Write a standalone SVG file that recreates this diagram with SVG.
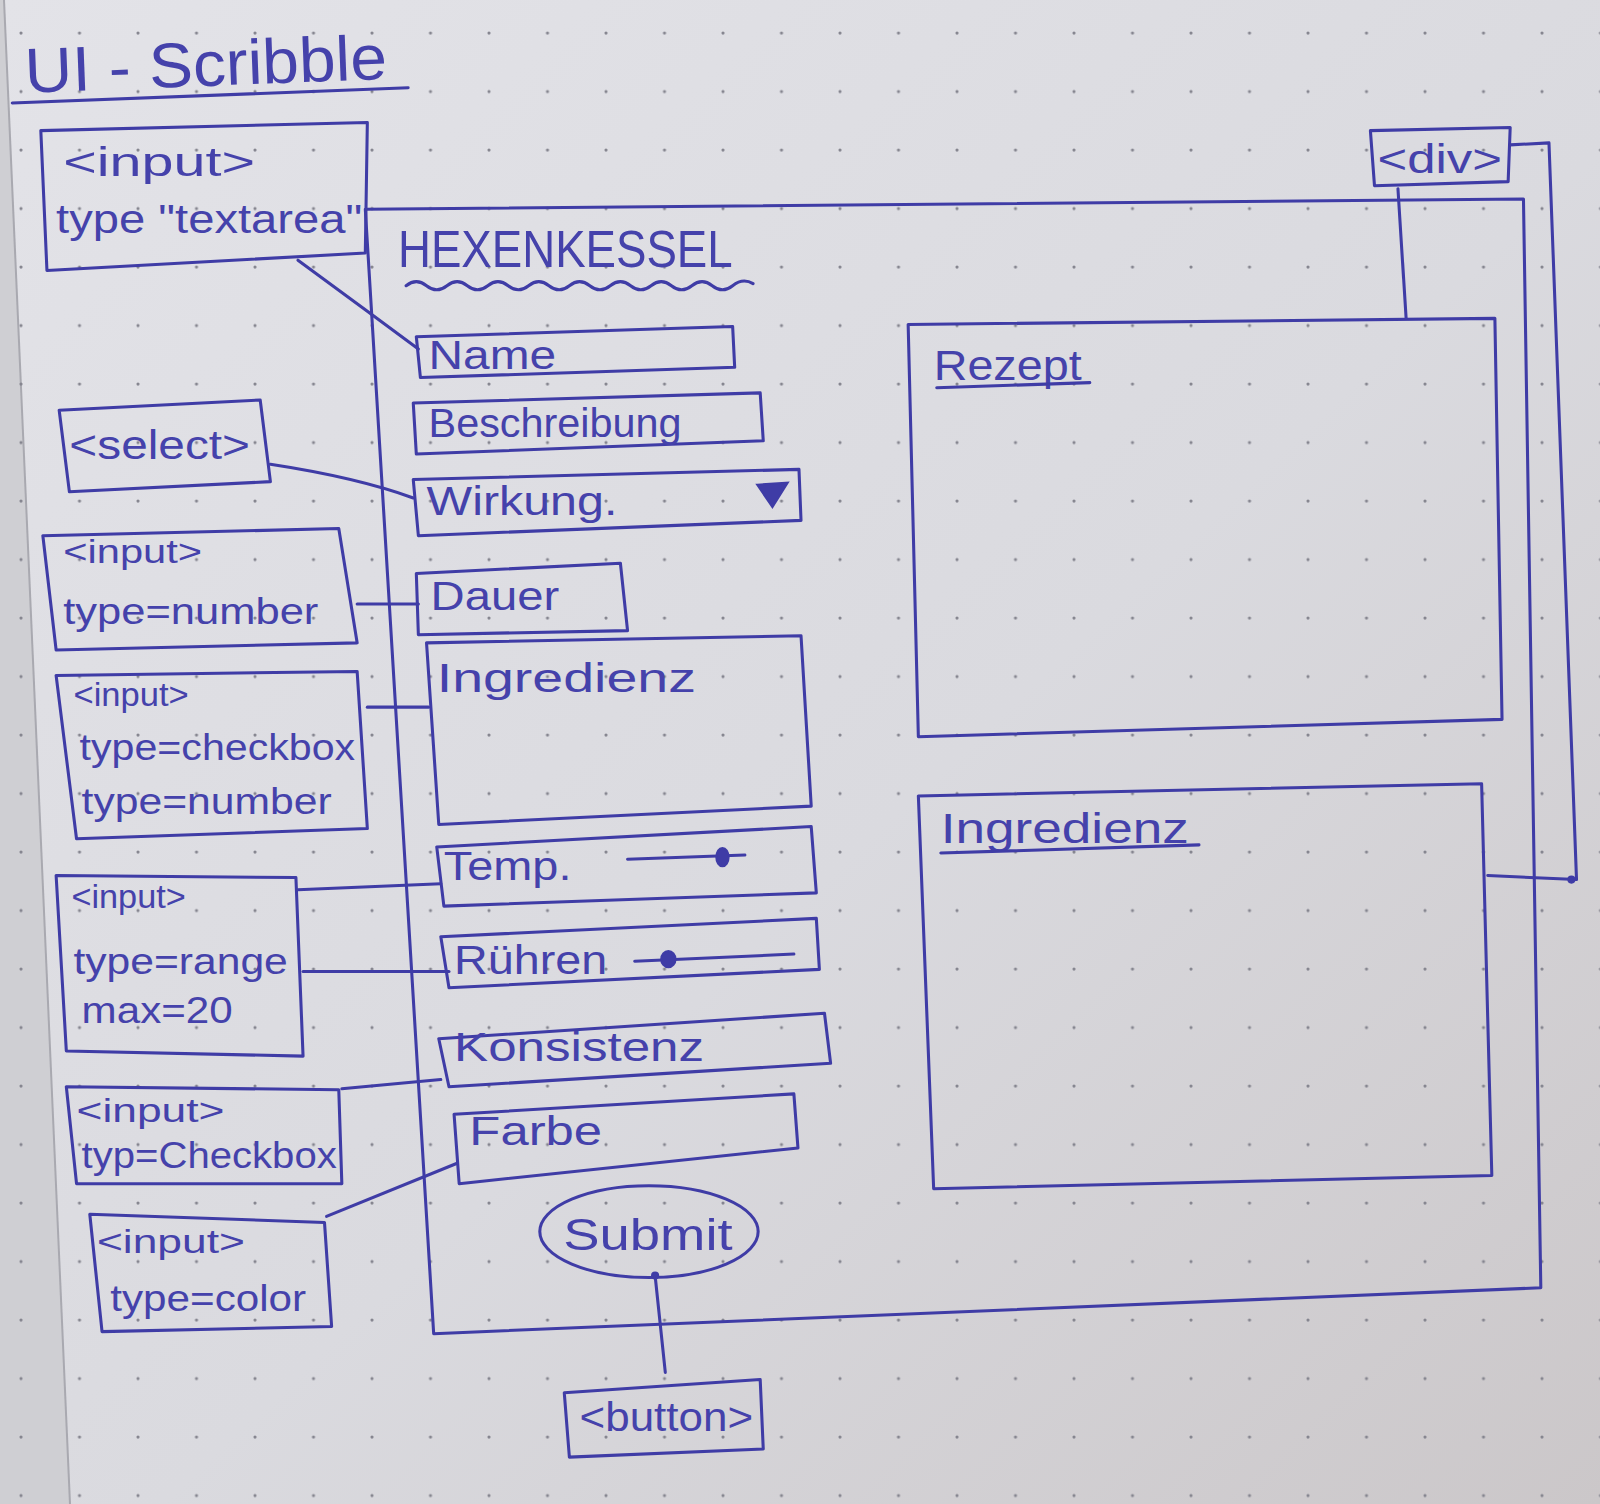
<svg xmlns="http://www.w3.org/2000/svg" width="1600" height="1504" viewBox="0 0 1600 1504">
<defs>
<linearGradient id="paper" x1="0" y1="0" x2="1" y2="1">
<stop offset="0" stop-color="#e3e3e8"/>
<stop offset="0.55" stop-color="#dadadf"/>
<stop offset="1" stop-color="#cbc7c9"/>
</linearGradient>
<pattern id="dots" x="18" y="30" width="58.5" height="58.5" patternUnits="userSpaceOnUse">
<circle cx="3" cy="3" r="1.6" fill="#85858f"/>
</pattern>
<style>
.ink{fill:none;stroke:#3f3ca6;stroke-width:3;stroke-linecap:round;stroke-linejoin:round}
.fillink{fill:#3f3ca6;stroke:#3f3ca6;stroke-width:2}
.t{font-family:"Liberation Sans",Arial,sans-serif;fill:#4542ab;font-weight:normal}
.s32{font-size:32px}.s36{font-size:36px}.s40{font-size:40px}.s44{font-size:44px}
</style>
</defs>
<rect width="1600" height="1504" fill="url(#paper)"/>
<polygon points="0,0 4,0 70,1504 0,1504" fill="#cfcfd3"/>
<path d="M4,0 L70,1504" stroke="#a9a9b0" stroke-width="2" fill="none"/>
<rect width="1600" height="1504" fill="url(#dots)"/>
<g transform="scale(1.0204)">
<g id="title">
<text class="t" x="25" y="91" font-size="62" textLength="355" lengthAdjust="spacingAndGlyphs" transform="rotate(-2.2 25 91)">UI - Scribble</text>
<path class="ink" d="M12,101 L400,86"/>
</g>
<g id="form-container">
<polygon class="ink" points="358,205 1493,195 1510,1262 425,1307"/>
<text class="t" x="390" y="262" font-size="50" textLength="328" lengthAdjust="spacingAndGlyphs">HEXENKESSEL</text>
<path class="ink" d="M398,280 q10,-8 20,0 t20,0 t20,0 t20,0 t20,0 t20,0 t20,0 t20,0 t20,0 t20,0 t20,0 t20,0 t20,0 t20,0 t20,0 t20,0 t20,-2"/>
</g>
<g id="node-textarea">
<polygon class="ink" points="40,128 360,120 358,248 46,265"/>
<text class="t s40" x="62" y="172" textLength="188" lengthAdjust="spacingAndGlyphs">&lt;input&gt;</text>
<text class="t s40" x="55" y="228" textLength="300" lengthAdjust="spacingAndGlyphs">type "textarea"</text>
</g>
<g id="node-select">
<polygon class="ink" points="58,402 255,392 265,472 68,482"/>
<text class="t s40" x="68" y="450" textLength="177" lengthAdjust="spacingAndGlyphs">&lt;select&gt;</text>
</g>
<g id="node-input-number">
<polygon class="ink" points="42,525 332,518 350,630 55,637"/>
<text class="t s32" x="62" y="552" textLength="136" lengthAdjust="spacingAndGlyphs">&lt;input&gt;</text>
<text class="t s36" x="62" y="612" textLength="250" lengthAdjust="spacingAndGlyphs">type=number</text>
</g>
<g id="node-input-checkbox-number">
<polygon class="ink" points="55,662 350,658 360,812 75,822"/>
<text class="t s32" x="72" y="692" textLength="113" lengthAdjust="spacingAndGlyphs">&lt;input&gt;</text>
<text class="t s36" x="78" y="745" textLength="270" lengthAdjust="spacingAndGlyphs">type=checkbox</text>
<text class="t s36" x="80" y="798" textLength="245" lengthAdjust="spacingAndGlyphs">type=number</text>
</g>
<g id="node-input-range">
<polygon class="ink" points="55,858 290,860 297,1035 65,1030"/>
<text class="t s32" x="70" y="890" textLength="112" lengthAdjust="spacingAndGlyphs">&lt;input&gt;</text>
<text class="t s36" x="72" y="955" textLength="210" lengthAdjust="spacingAndGlyphs">type=range</text>
<text class="t s36" x="80" y="1003" textLength="148" lengthAdjust="spacingAndGlyphs">max=20</text>
</g>
<g id="node-input-checkbox">
<polygon class="ink" points="65,1065 332,1068 335,1160 75,1160"/>
<text class="t s32" x="75" y="1100" textLength="145" lengthAdjust="spacingAndGlyphs">&lt;input&gt;</text>
<text class="t s36" x="80" y="1145" textLength="250" lengthAdjust="spacingAndGlyphs">typ=Checkbox</text>
</g>
<g id="node-input-color">
<polygon class="ink" points="88,1190 318,1198 325,1300 100,1305"/>
<text class="t s32" x="95" y="1228" textLength="145" lengthAdjust="spacingAndGlyphs">&lt;input&gt;</text>
<text class="t s36" x="108" y="1285" textLength="192" lengthAdjust="spacingAndGlyphs">type=color</text>
</g>
<g id="field-name">
<polygon class="ink" points="408,330 718,320 720,360 412,370"/>
<text class="t s40" x="420" y="362" textLength="125" lengthAdjust="spacingAndGlyphs">Name</text>
</g>
<g id="field-beschreibung">
<polygon class="ink" points="405,395 745,385 748,432 408,445"/>
<text class="t s40" x="420" y="428" textLength="248" lengthAdjust="spacingAndGlyphs">Beschreibung</text>
</g>
<g id="field-wirkung">
<polygon class="ink" points="405,470 783,460 785,510 410,525"/>
<text class="t s40" x="418" y="505" textLength="187" lengthAdjust="spacingAndGlyphs">Wirkung.</text>
<polygon class="fillink" points="742,475 772,473 757,497"/>
</g>
<g id="field-dauer">
<polygon class="ink" points="408,562 608,552 615,618 410,622"/>
<text class="t s40" x="422" y="598" textLength="126" lengthAdjust="spacingAndGlyphs">Dauer</text>
</g>
<g id="field-ingredienz">
<polygon class="ink" points="418,630 785,623 795,790 430,808"/>
<text class="t s40" x="428" y="678" textLength="254" lengthAdjust="spacingAndGlyphs">Ingredienz</text>
</g>
<g id="field-temp">
<polygon class="ink" points="428,830 795,810 800,875 435,888"/>
<text class="t s40" x="435" y="862" textLength="125" lengthAdjust="spacingAndGlyphs">Temp.</text>
<path class="ink" d="M615,842 L730,838"/>
<ellipse class="fillink" cx="708" cy="840" rx="6" ry="9"/>
</g>
<g id="field-ruehren">
<polygon class="ink" points="432,918 800,900 803,950 440,968"/>
<text class="t s40" x="445" y="955" textLength="150" lengthAdjust="spacingAndGlyphs">Rühren</text>
<path class="ink" d="M622,942 L778,935"/>
<ellipse class="fillink" cx="655" cy="940" rx="7" ry="8"/>
</g>
<g id="field-konsistenz">
<polygon class="ink" points="430,1018 808,993 814,1042 440,1065"/>
<text class="t s40" x="445" y="1040" textLength="245" lengthAdjust="spacingAndGlyphs">Konsistenz</text>
</g>
<g id="field-farbe">
<polygon class="ink" points="445,1092 778,1072 782,1125 450,1160"/>
<text class="t s40" x="460" y="1122" textLength="130" lengthAdjust="spacingAndGlyphs">Farbe</text>
</g>
<g id="node-submit">
<ellipse class="ink" cx="636" cy="1207" rx="107" ry="45"/>
<text class="t s44" x="552" y="1225" textLength="166" lengthAdjust="spacingAndGlyphs">Submit</text>
</g>
<g id="node-button">
<polygon class="ink" points="553,1365 745,1352 748,1420 558,1428"/>
<text class="t s40" x="568" y="1402" textLength="170" lengthAdjust="spacingAndGlyphs">&lt;button&gt;</text>
</g>
<g id="node-div">
<polygon class="ink" points="1343,128 1480,125 1478,178 1347,182"/>
<text class="t s40" x="1350" y="170" textLength="122" lengthAdjust="spacingAndGlyphs">&lt;div&gt;</text>
</g>
<g id="node-rezept">
<polygon class="ink" points="890,318 1465,312 1472,705 900,722"/>
<text class="t" x="915" y="372" font-size="42" textLength="145" lengthAdjust="spacingAndGlyphs">Rezept</text>
<path class="ink" d="M918,380 L1068,375"/>
</g>
<g id="node-ingredienz">
<polygon class="ink" points="900,780 1452,768 1462,1152 915,1165"/>
<text class="t" x="922" y="826" font-size="42" textLength="243" lengthAdjust="spacingAndGlyphs">Ingredienz</text>
<path class="ink" d="M922,836 L1175,828"/>
</g>
<g id="connectors">
<path class="ink" d="M292,255 L360,305 L410,342"/>
<path class="ink" d="M265,455 Q350,468 405,488"/>
<path class="ink" d="M350,592 L410,592"/>
<path class="ink" d="M360,693 L420,693"/>
<path class="ink" d="M292,872 L432,866"/>
<path class="ink" d="M297,952 L440,952"/>
<path class="ink" d="M335,1067 L432,1058"/>
<path class="ink" d="M320,1192 L448,1140"/>
<path class="ink" d="M642,1250 L652,1345"/>
<circle class="fillink" cx="642" cy="1250" r="3"/>
<path class="ink" d="M1370,185 L1378,312"/>
<path class="ink" d="M1480,142 L1518,140 L1545,862 L1458,858"/>
<circle class="fillink" cx="1540" cy="862" r="3"/>
</g>
</g>
</svg>
